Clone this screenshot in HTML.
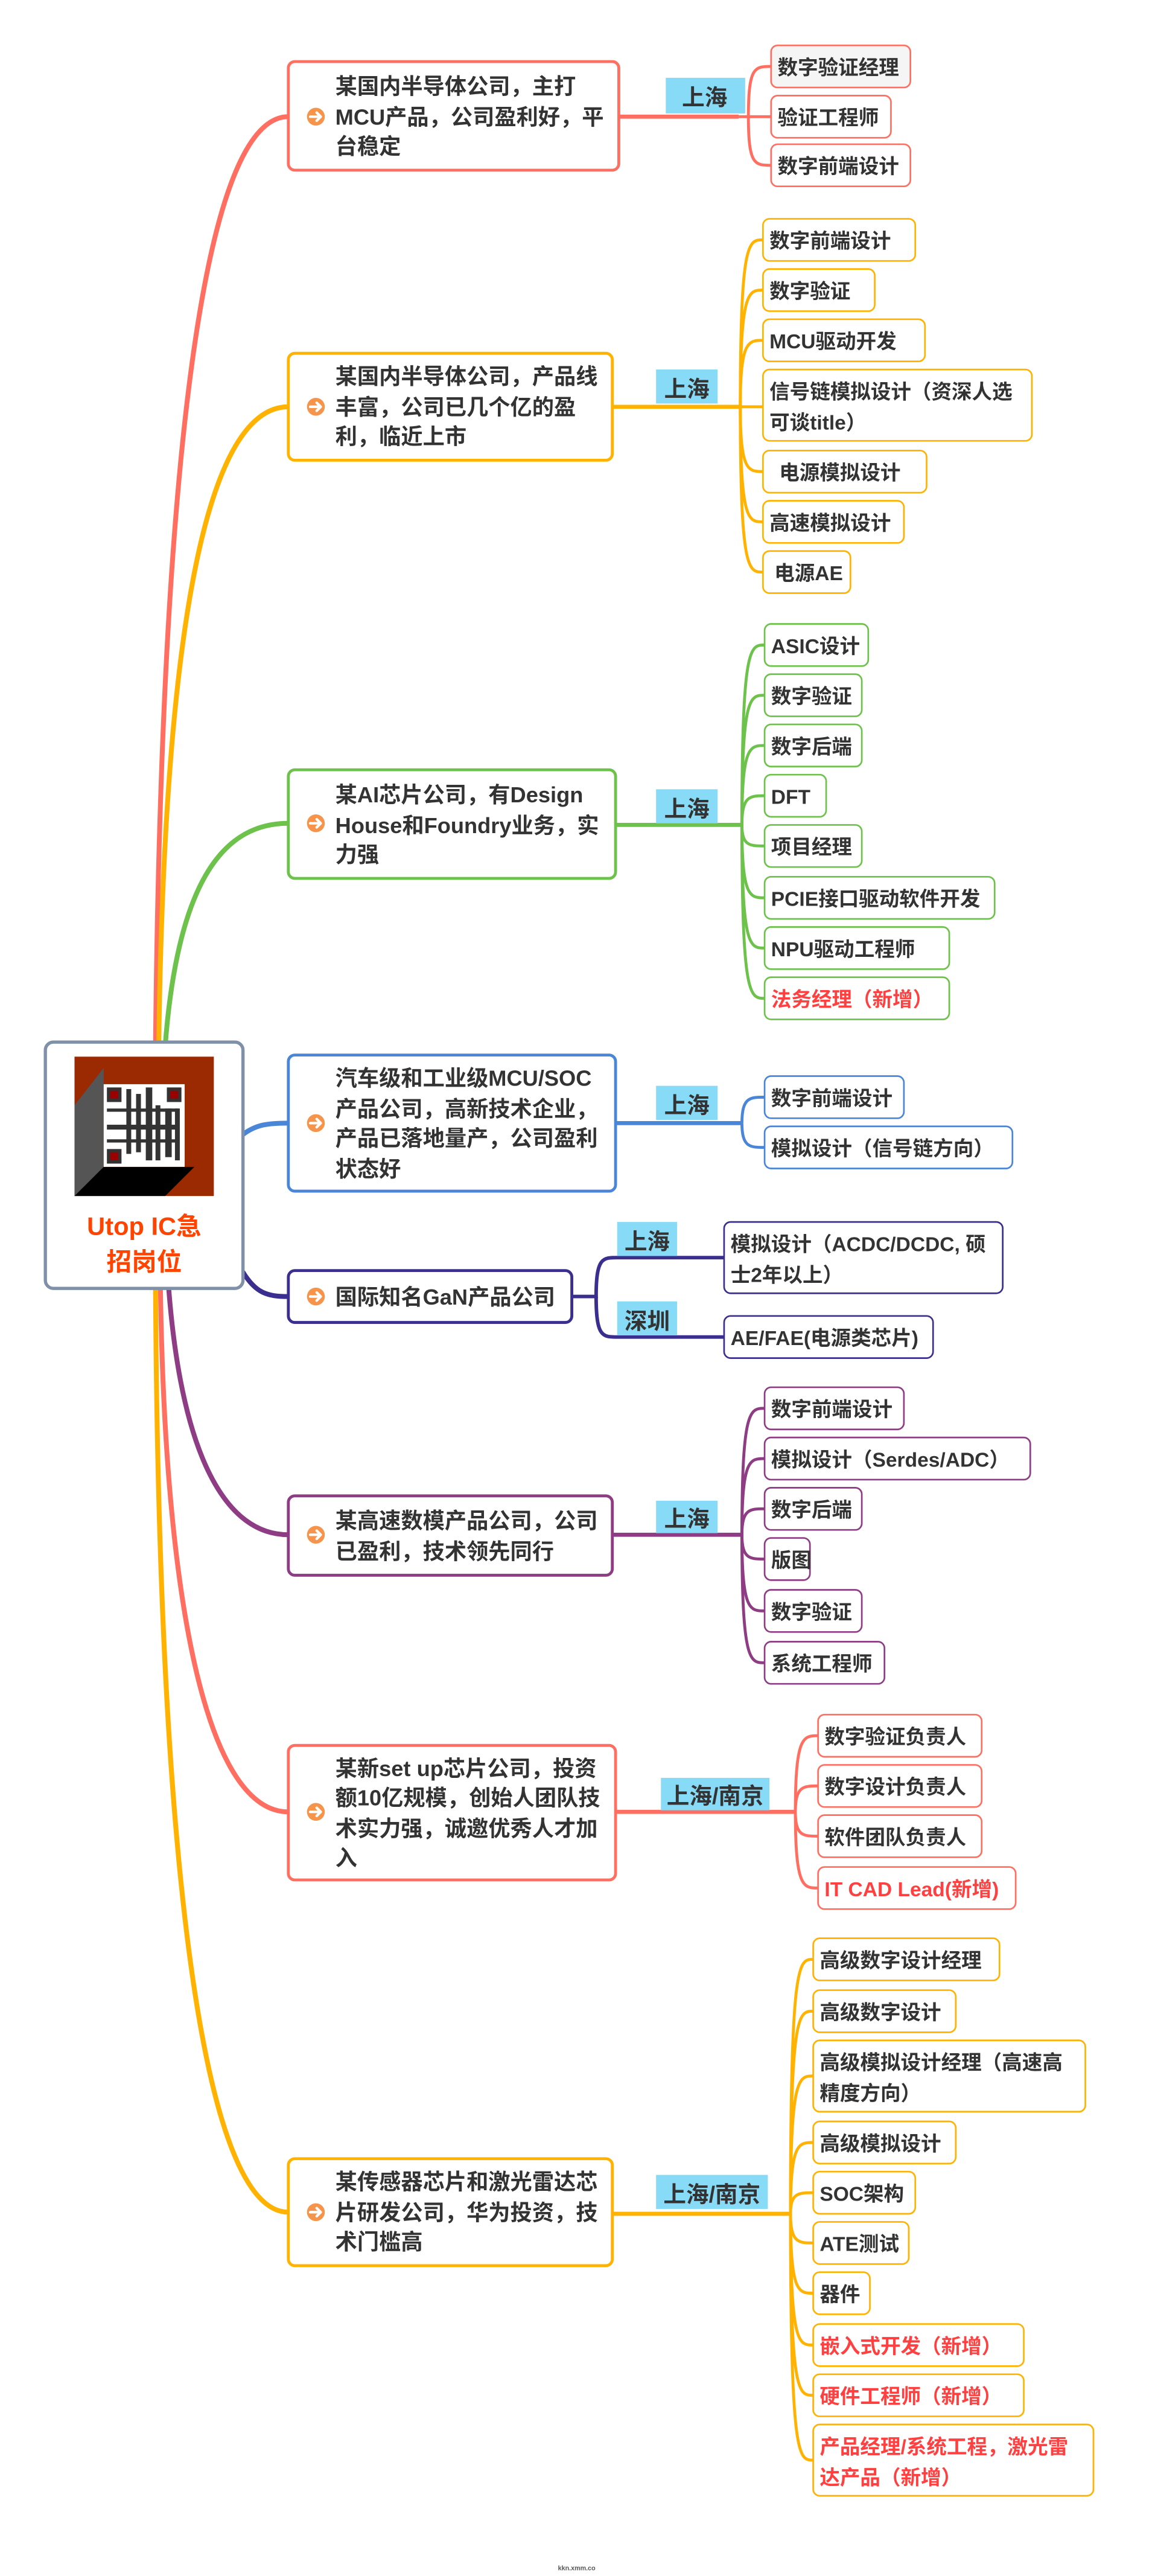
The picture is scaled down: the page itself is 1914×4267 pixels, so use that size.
<!DOCTYPE html>
<html><head><meta charset="utf-8"><style>
html,body{margin:0;padding:0;background:#fff;}
svg{display:block;}
text{font-family:"Liberation Sans","Noto Sans CJK SC",sans-serif;font-weight:bold;fill:#333;}
.b{font-size:13.5px;}
.l{font-size:12.5px;}
.c{font-size:14px;text-anchor:middle;}
.r{fill:#ff4040;}
</style></head><body>
<svg width="1914" height="4267" viewBox="0 0 713 1589.5" preserveAspectRatio="none" xmlns="http://www.w3.org/2000/svg">
<rect width="713" height="1589.5" fill="#fff"/>
<g fill="none" stroke-width="3" stroke-linecap="round">
<path d="M96 645 C100 250,130 72,178 72" stroke="#ff6f61"/>
<path d="M98 645 C102 350,135 251,178 251" stroke="#ffb300"/>
<path d="M102 645 C110 540,140 508,178 508" stroke="#6cc24a"/>
<path d="M150 700 C158 694,165 693,178 693" stroke="#4a86d8"/>
<path d="M150 785 C158 798,165 800,178 800" stroke="#3a2f8f"/>
<path d="M104 793 C112 900,140 947,178 947" stroke="#8e3d84"/>
<path d="M99 793 C102 1000,130 1118,178 1118" stroke="#ff6f61"/>
<path d="M96 793 C98 1150,125 1365,178 1365" stroke="#ffb300"/>
</g>
<rect x="28" y="643" width="122" height="152" rx="5" fill="#fff" stroke="#8090a8" stroke-width="2"/>
<rect x="46" y="652" width="86" height="86" fill="#9b2a03"/>
<polygon points="46,682 64,659 64,720 46,738" fill="#555"/>
<polygon points="46,738 64,720 120,720 102,738" fill="#000"/>
<rect x="64" y="669" width="50" height="51" fill="#fff"/>
<g fill="#333">
<rect x="66" y="671" width="9" height="9"/><rect x="103" y="671" width="9" height="9"/><rect x="66" y="709" width="9" height="9"/>
<rect x="78" y="672" width="3" height="40"/><rect x="84" y="675" width="3" height="36"/><rect x="90" y="671" width="4" height="45"/><rect x="96" y="682" width="3" height="34"/><rect x="102" y="684" width="4" height="30"/><rect x="108" y="684" width="3" height="32"/><rect x="66" y="684" width="44" height="2"/><rect x="66" y="694" width="44" height="3"/><rect x="66" y="703" width="44" height="2"/>
</g>
<g fill="#900"><rect x="68" y="673" width="5" height="5"/><rect x="105" y="673" width="5" height="5"/><rect x="68" y="711" width="5" height="5"/></g>
<text x="89" y="762" style="font-size:15.5px;text-anchor:middle;fill:#ff4400">Utop IC急</text>
<text x="89" y="784" style="font-size:15.5px;text-anchor:middle;fill:#ff4400">招岗位</text>

<g>
<path d="M382 72 L456 72" stroke="#ff6f61" stroke-width="2.5"/>
<g fill="none" stroke="#ff6f61" stroke-width="1.8"><path d="M456 72 L462 72 C462 41,466 41,476 41"/><path d="M462 72 L476 72"/><path d="M462 72 C462 102,466 102,476 102"/></g>
<rect x="178" y="38" width="204" height="67" rx="4" fill="#fff" stroke="#ff6f61" stroke-width="1.8"/>
<text class="b" x="207" y="58">某国内半导体公司，主打</text><text class="b" x="207" y="77">MCU产品，公司盈利好，平</text><text class="b" x="207" y="95">台稳定</text>
<rect x="411" y="48" width="49" height="22" fill="#87dbf7"/><text class="c" x="435" y="65">上海</text>
<rect x="476" y="28" width="86" height="26" rx="4" fill="#f5f5f5" stroke="#ff6f61"/><text class="l" x="480" y="46">数字验证经理</text>
<rect x="476" y="59" width="74" height="26" rx="4" fill="#fff" stroke="#ff6f61"/><text class="l" x="480" y="77">验证工程师</text>
<rect x="476" y="89" width="86" height="26" rx="4" fill="#fff" stroke="#ff6f61"/><text class="l" x="480" y="107">数字前端设计</text>
</g>

<g>
<path d="M378 251 L457 251" stroke="#ffb300" stroke-width="2.5"/>
<g fill="none" stroke="#ffb300" stroke-width="1.8">
<path d="M457 251 C457 148,462 148,471 148"/><path d="M457 251 C457 179,462 179,471 179"/><path d="M457 251 C457 210,462 210,471 210"/><path d="M457 251 L471 251"/><path d="M457 251 C457 291,462 291,471 291"/><path d="M457 251 C457 322,462 322,471 322"/><path d="M457 251 C457 353,462 353,471 353"/></g>
<rect x="178" y="218" width="200" height="66" rx="4" fill="#fff" stroke="#ffb300" stroke-width="1.8"/>
<text class="b" x="207" y="237">某国内半导体公司，产品线</text><text class="b" x="207" y="256">丰富，公司已几个亿的盈</text><text class="b" x="207" y="274">利，临近上市</text>
<rect x="405" y="228" width="38" height="21" fill="#87dbf7"/><text class="c" x="424" y="245">上海</text>
<rect x="471" y="135" width="94" height="26" rx="4" fill="#fff" stroke="#ffb300"/><text class="l" x="475" y="153">数字前端设计</text>
<rect x="471" y="166" width="69" height="26" rx="4" fill="#fff" stroke="#ffb300"/><text class="l" x="475" y="184">数字验证</text>
<rect x="471" y="197" width="100" height="26" rx="4" fill="#fff" stroke="#ffb300"/><text class="l" x="475" y="215">MCU驱动开发</text>
<rect x="471" y="228" width="166" height="44" rx="4" fill="#fff" stroke="#ffb300"/><text class="l" x="475" y="246">信号链模拟设计（资深人选</text><text class="l" x="475" y="265">可谈title）</text>
<rect x="471" y="278" width="101" height="26" rx="4" fill="#fff" stroke="#ffb300"/><text class="l" x="481" y="296">电源模拟设计</text>
<rect x="471" y="309" width="87" height="26" rx="4" fill="#fff" stroke="#ffb300"/><text class="l" x="475" y="327">高速模拟设计</text>
<rect x="471" y="340" width="54" height="26" rx="4" fill="#fff" stroke="#ffb300"/><text class="l" x="478" y="358">电源AE</text>
</g>

<g>
<path d="M380 509 L458 509" stroke="#6cc24a" stroke-width="2.5"/>
<g fill="none" stroke="#6cc24a" stroke-width="1.8">
<path d="M458 509 C458 398,463 398,472 398"/><path d="M458 509 C458 429,463 429,472 429"/><path d="M458 509 C458 460,463 460,472 460"/><path d="M458 509 C458 491,463 491,472 491"/><path d="M458 509 C458 522,463 522,472 522"/><path d="M458 509 C458 554,463 554,472 554"/><path d="M458 509 C458 585,463 585,472 585"/><path d="M458 509 C458 616,463 616,472 616"/></g>
<rect x="178" y="475" width="202" height="67" rx="4" fill="#fff" stroke="#6cc24a" stroke-width="1.8"/>
<text class="b" x="207" y="495">某AI芯片公司，有Design</text><text class="b" x="207" y="514">House和Foundry业务，实</text><text class="b" x="207" y="532">力强</text>
<rect x="405" y="487" width="38" height="21" fill="#87dbf7"/><text class="c" x="424" y="504">上海</text>
<rect x="472" y="385" width="64" height="26" rx="4" fill="#fff" stroke="#6cc24a"/><text class="l" x="476" y="403">ASIC设计</text>
<rect x="472" y="416" width="60" height="26" rx="4" fill="#fff" stroke="#6cc24a"/><text class="l" x="476" y="434">数字验证</text>
<rect x="472" y="447" width="60" height="26" rx="4" fill="#fff" stroke="#6cc24a"/><text class="l" x="476" y="465">数字后端</text>
<rect x="472" y="478" width="38" height="26" rx="4" fill="#fff" stroke="#6cc24a"/><text class="l" x="476" y="496">DFT</text>
<rect x="472" y="509" width="60" height="26" rx="4" fill="#fff" stroke="#6cc24a"/><text class="l" x="476" y="527">项目经理</text>
<rect x="472" y="541" width="142" height="26" rx="4" fill="#fff" stroke="#6cc24a"/><text class="l" x="476" y="559">PCIE接口驱动软件开发</text>
<rect x="472" y="572" width="114" height="26" rx="4" fill="#fff" stroke="#6cc24a"/><text class="l" x="476" y="590">NPU驱动工程师</text>
<rect x="472" y="603" width="114" height="26" rx="4" fill="#fff" stroke="#6cc24a"/><text class="l r" x="476" y="621">法务经理（新增）</text>
</g>

<g>
<path d="M380 693 L458 693" stroke="#4a86d8" stroke-width="2.5"/>
<g fill="none" stroke="#4a86d8" stroke-width="1.8"><path d="M458 693 C458 677,463 677,472 677"/><path d="M458 693 C458 708,463 708,472 708"/></g>
<rect x="178" y="651" width="202" height="84" rx="4" fill="#fff" stroke="#4a86d8" stroke-width="1.8"/>
<text class="b" x="207" y="670">汽车级和工业级MCU/SOC</text><text class="b" x="207" y="689">产品公司，高新技术企业，</text><text class="b" x="207" y="707">产品已落地量产，公司盈利</text><text class="b" x="207" y="726">状态好</text>
<rect x="405" y="670" width="38" height="21" fill="#87dbf7"/><text class="c" x="424" y="687">上海</text>
<rect x="472" y="664" width="86" height="26" rx="4" fill="#fff" stroke="#4a86d8"/><text class="l" x="476" y="682">数字前端设计</text>
<rect x="472" y="695" width="153" height="26" rx="4" fill="#fff" stroke="#4a86d8"/><text class="l" x="476" y="713">模拟设计（信号链方向）</text>
</g>

<g>
<g fill="none" stroke="#3a2f8f" stroke-width="2.2"><path d="M353 800 L368 800 C368 776,372 776,381 776 L447 776"/><path d="M368 800 C368 825,372 825,381 825 L447 825"/></g>
<rect x="178" y="784" width="175" height="32" rx="4" fill="#fff" stroke="#3a2f8f" stroke-width="1.8"/>
<text class="b" x="207" y="805">国际知名GaN产品公司</text>
<rect x="381" y="754" width="37" height="21" fill="#87dbf7"/><text class="c" x="399.5" y="771">上海</text>
<rect x="381" y="803" width="37" height="21" fill="#87dbf7"/><text class="c" x="399.5" y="820">深圳</text>
<rect x="447" y="754" width="172" height="44" rx="4" fill="#fff" stroke="#3a2f8f"/><text class="l" x="451" y="772">模拟设计（ACDC/DCDC, 硕</text><text class="l" x="451" y="791">士2年以上）</text>
<rect x="447" y="812" width="129" height="26" rx="4" fill="#fff" stroke="#3a2f8f"/><text class="l" x="451" y="830">AE/FAE(电源类芯片)</text>
</g>

<g>
<path d="M378 947 L458 947" stroke="#8e3d84" stroke-width="2.5"/>
<g fill="none" stroke="#8e3d84" stroke-width="1.8"><path d="M458 947 C458 869,463 869,472 869"/><path d="M458 947 C458 900,463 900,472 900"/><path d="M458 947 C458 931,463 931,472 931"/><path d="M458 947 C458 962,463 962,472 962"/><path d="M458 947 C458 994,463 994,472 994"/><path d="M458 947 C458 1026,463 1026,472 1026"/></g>
<rect x="178" y="923" width="200" height="49" rx="4" fill="#fff" stroke="#8e3d84" stroke-width="1.8"/>
<text class="b" x="207" y="943">某高速数模产品公司，公司</text><text class="b" x="207" y="962">已盈利，技术领先同行</text>
<rect x="405" y="926" width="38" height="20" fill="#87dbf7"/><text class="c" x="424" y="942">上海</text>
<rect x="472" y="856" width="86" height="26" rx="4" fill="#fff" stroke="#8e3d84"/><text class="l" x="476" y="874">数字前端设计</text>
<rect x="472" y="887" width="164" height="26" rx="4" fill="#fff" stroke="#8e3d84"/><text class="l" x="476" y="905">模拟设计（Serdes/ADC）</text>
<rect x="472" y="918" width="60" height="26" rx="4" fill="#fff" stroke="#8e3d84"/><text class="l" x="476" y="936">数字后端</text>
<rect x="472" y="949" width="28" height="26" rx="4" fill="#fff" stroke="#8e3d84"/><text class="l" x="476" y="967">版图</text>
<rect x="472" y="981" width="60" height="26" rx="4" fill="#fff" stroke="#8e3d84"/><text class="l" x="476" y="999">数字验证</text>
<rect x="472" y="1013" width="74" height="26" rx="4" fill="#fff" stroke="#8e3d84"/><text class="l" x="476" y="1031">系统工程师</text>
</g>

<g>
<path d="M380 1118 L491 1118" stroke="#ff6f61" stroke-width="2.5"/>
<g fill="none" stroke="#ff6f61" stroke-width="1.8"><path d="M491 1118 C491 1071,496 1071,505 1071"/><path d="M491 1118 C491 1102,496 1102,505 1102"/><path d="M491 1118 C491 1133,496 1133,505 1133"/><path d="M491 1118 C491 1165,496 1165,505 1165"/></g>
<rect x="178" y="1077" width="202" height="83" rx="4" fill="#fff" stroke="#ff6f61" stroke-width="1.8"/>
<text class="b" x="207" y="1096">某新set up芯片公司，投资</text><text class="b" x="207" y="1114">额10亿规模，创始人团队技</text><text class="b" x="207" y="1133">术实力强，诚邀优秀人才加</text><text class="b" x="207" y="1151">入</text>
<rect x="408" y="1097" width="67" height="20" fill="#87dbf7"/><text class="c" x="441.5" y="1113">上海/南京</text>
<rect x="505" y="1058" width="101" height="26" rx="4" fill="#fff" stroke="#ff6f61"/><text class="l" x="509" y="1076">数字验证负责人</text>
<rect x="505" y="1089" width="101" height="26" rx="4" fill="#fff" stroke="#ff6f61"/><text class="l" x="509" y="1107">数字设计负责人</text>
<rect x="505" y="1120" width="101" height="26" rx="4" fill="#fff" stroke="#ff6f61"/><text class="l" x="509" y="1138">软件团队负责人</text>
<rect x="505" y="1152" width="122" height="26" rx="4" fill="#fff" stroke="#ff6f61"/><text class="l r" x="509" y="1170">IT CAD Lead(新增)</text>
</g>

<g>
<path d="M378 1366 L488 1366" stroke="#ffb300" stroke-width="2.5"/>
<g fill="none" stroke="#ffb300" stroke-width="1.8">
<path d="M488 1366 C488 1209,493 1209,502 1209"/><path d="M488 1366 C488 1241,493 1241,502 1241"/><path d="M488 1366 C488 1281,493 1281,502 1281"/><path d="M488 1366 C488 1322,493 1322,502 1322"/><path d="M488 1366 C488 1353,493 1353,502 1353"/><path d="M488 1366 C488 1384,493 1384,502 1384"/><path d="M488 1366 C488 1415,493 1415,502 1415"/><path d="M488 1366 C488 1447,493 1447,502 1447"/><path d="M488 1366 C488 1478,493 1478,502 1478"/><path d="M488 1366 C488 1518,493 1518,502 1518"/></g>
<rect x="178" y="1332" width="200" height="66" rx="4" fill="#fff" stroke="#ffb300" stroke-width="1.8"/>
<text class="b" x="207" y="1351">某传感器芯片和激光雷达芯</text><text class="b" x="207" y="1370">片研发公司，华为投资，技</text><text class="b" x="207" y="1388">术门槛高</text>
<rect x="405" y="1342" width="69" height="21" fill="#87dbf7"/><text class="c" x="439.5" y="1359">上海/南京</text>
<rect x="502" y="1196" width="115" height="26" rx="4" fill="#fff" stroke="#ffb300"/><text class="l" x="506" y="1214">高级数字设计经理</text>
<rect x="502" y="1228" width="88" height="26" rx="4" fill="#fff" stroke="#ffb300"/><text class="l" x="506" y="1246">高级数字设计</text>
<rect x="502" y="1259" width="168" height="44" rx="4" fill="#fff" stroke="#ffb300"/><text class="l" x="506" y="1277">高级模拟设计经理（高速高</text><text class="l" x="506" y="1296">精度方向）</text>
<rect x="502" y="1309" width="88" height="26" rx="4" fill="#fff" stroke="#ffb300"/><text class="l" x="506" y="1327">高级模拟设计</text>
<rect x="502" y="1340" width="63" height="26" rx="4" fill="#fff" stroke="#ffb300"/><text class="l" x="506" y="1358">SOC架构</text>
<rect x="502" y="1371" width="59" height="26" rx="4" fill="#fff" stroke="#ffb300"/><text class="l" x="506" y="1389">ATE测试</text>
<rect x="502" y="1402" width="35" height="26" rx="4" fill="#fff" stroke="#ffb300"/><text class="l" x="506" y="1420">器件</text>
<rect x="502" y="1434" width="130" height="26" rx="4" fill="#fff" stroke="#ffb300"/><text class="l r" x="506" y="1452">嵌入式开发（新增）</text>
<rect x="502" y="1465" width="130" height="26" rx="4" fill="#fff" stroke="#ffb300"/><text class="l r" x="506" y="1483">硬件工程师（新增）</text>
<rect x="502" y="1496" width="173" height="44" rx="4" fill="#fff" stroke="#ffb300"/><text class="l r" x="506" y="1514">产品经理/系统工程，激光雷</text><text class="l r" x="506" y="1533">达产品（新增）</text>
</g>

<g fill="#f5944a">
<circle cx="195" cy="72" r="5.5"/><circle cx="195" cy="251" r="5.5"/><circle cx="195" cy="508" r="5.5"/><circle cx="195" cy="693" r="5.5"/><circle cx="195" cy="800" r="5.5"/><circle cx="195" cy="947" r="5.5"/><circle cx="195" cy="1118" r="5.5"/><circle cx="195" cy="1365" r="5.5"/>
</g>
<g fill="none" stroke="#fff" stroke-width="1.6" stroke-linecap="round" stroke-linejoin="round">
<path d="M191.5 72 H198 M195.5 69.5 L198 72 L195.5 74.5"/><path d="M191.5 251 H198 M195.5 248.5 L198 251 L195.5 253.5"/><path d="M191.5 508 H198 M195.5 505.5 L198 508 L195.5 510.5"/><path d="M191.5 693 H198 M195.5 690.5 L198 693 L195.5 695.5"/><path d="M191.5 800 H198 M195.5 797.5 L198 800 L195.5 802.5"/><path d="M191.5 947 H198 M195.5 944.5 L198 947 L195.5 949.5"/><path d="M191.5 1118 H198 M195.5 1115.5 L198 1118 L195.5 1120.5"/><path d="M191.5 1365 H198 M195.5 1362.5 L198 1365 L195.5 1367.5"/>
</g>
<text x="356" y="1586" style="font-size:4px;text-anchor:middle;fill:#555">kkn.xmm.co</text>
</svg>
</body></html>
